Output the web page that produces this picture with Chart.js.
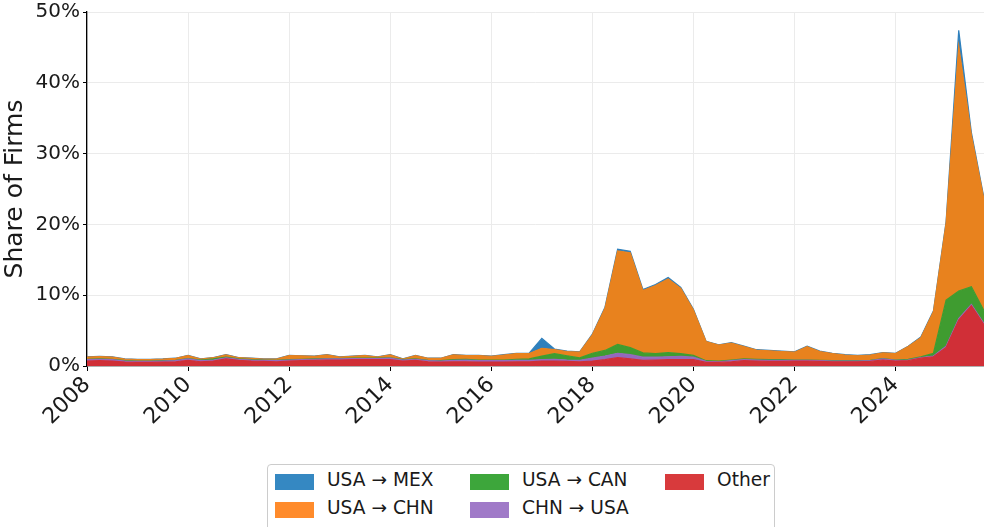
<!DOCTYPE html>
<html>
<head>
    <title>Share of Firms</title>
    <script src="https://cdn.jsdelivr.net/npm/chart.js@4.4.0/dist/chart.umd.min.js"></script>
    <style>
        body { margin: 0; background: white; font-family: "DejaVu Sans", sans-serif; }
        #wrap { position: relative; width: 984px; height: 527px; overflow: hidden; }
        #legend {
            position: absolute; left: 267px; top: 464px; width: 508px; height: 80px;
            border: 1px solid #cccccc; border-radius: 4px; background: white; box-sizing: border-box;
        }
        .item { position: absolute; font-size: 18.6px; color: #1a1a1a; white-space: nowrap; }
        .patch { position: absolute; width: 39px; height: 16px; }
    </style>
</head>
<body>
<div id="wrap">
    <canvas id="chart" width="984" height="527"></canvas>
    <div id="legend"></div>
</div>
<script>
    // quarterly, 2008 Q1 .. 2025 Q4, values in %
    const quarters = [];
    for (var i = 0; i < 72; i++) quarters.push(2008 + i / 4);

    const other = [0.7,0.75,0.7,0.55,0.5,0.5,0.55,0.6, 0.8,0.6,0.7,1.0,0.8,0.7,0.65,0.6,
        0.7,0.75,0.8,0.85,0.85,0.9,0.9,0.9, 0.9,0.7,0.8,0.6,0.55,0.6,0.6,0.55,
        0.55,0.55,0.6,0.6,0.7,0.7,0.65,0.6, 0.7,0.9,1.2,1.0,0.8,0.85,0.9,0.9,
        0.9,0.5,0.5,0.6,0.75,0.7,0.65,0.65, 0.7,0.7,0.65,0.6,0.6,0.6,0.65,0.85,
        0.7,0.75,1.1,1.3,2.6,6.5,8.5,5.8];
    const chnUsa = [0.2,0.2,0.2,0.15,0.15,0.15,0.15,0.15, 0.2,0.15,0.15,0.15,0.15,0.15,0.15,0.15,
        0.15,0.15,0.15,0.15,0.15,0.15,0.15,0.15, 0.2,0.15,0.15,0.15,0.15,0.2,0.25,0.2,
        0.2,0.2,0.2,0.2,0.2,0.25,0.2,0.2, 0.4,0.5,0.6,0.6,0.45,0.4,0.4,0.45,
        0.35,0.15,0.1,0.15,0.15,0.15,0.15,0.15, 0.1,0.1,0.1,0.1,0.1,0.1,0.1,0.15,
        0.1,0.1,0.1,0.1,0.2,0.2,0.2,0.2];
    const usaCan = [0.05,0.05,0.05,0.05,0.05,0.05,0.05,0.05, 0.05,0.1,0.15,0.1,0.05,0.05,0.05,0.05,
        0.05,0.05,0.05,0.05,0.05,0.05,0.05,0.05, 0.05,0.05,0.05,0.05,0.05,0.1,0.1,0.1,
        0.1,0.1,0.15,0.2,0.5,0.8,0.6,0.35, 0.7,0.8,1.25,1.0,0.6,0.5,0.6,0.4,
        0.25,0.1,0.1,0.1,0.1,0.1,0.1,0.1, 0.05,0.05,0.05,0.05,0.05,0.05,0.05,0.05,
        0.05,0.1,0.1,0.4,6.5,3.9,2.5,1.8];
    const usaChn = [0.32,0.32,0.32,0.22,0.22,0.22,0.22,0.27, 0.42,0.12,0.17,0.32,0.17,0.17,0.12,0.17,
        0.57,0.47,0.37,0.52,0.22,0.27,0.37,0.17, 0.42,0.07,0.47,0.27,0.32,0.67,0.52,0.62,
        0.5,0.7,0.8,0.75,1.1,0.55,0.6,0.8, 2.6,5.95,13.2,13.4,8.8,9.6,10.4,9.2,
        6.4,2.7,2.25,2.4,1.75,1.3,1.25,1.15, 1.1,1.9,1.25,1.0,0.8,0.7,0.75,0.8,
        0.9,1.8,2.7,5.9,10.9,34.6,21.4,15.7];
    const usaMex = [0.03,0.03,0.03,0.03,0.03,0.03,0.03,0.03, 0.03,0.03,0.03,0.03,0.03,0.03,0.03,0.03,
        0.03,0.03,0.03,0.03,0.03,0.03,0.03,0.03, 0.03,0.03,0.03,0.03,0.03,0.03,0.03,0.03,
        0.05,0.05,0.05,0.05,1.4,0.1,0.05,0.05, 0.1,0.15,0.25,0.2,0.15,0.15,0.2,0.15,
        0.1,0.05,0.05,0.05,0.05,0.05,0.05,0.05, 0.05,0.05,0.05,0.05,0.05,0.05,0.05,0.05,
        0.05,0.05,0.1,0.1,0.2,2.2,0.4,0.2];

    const yearTicks = [2008, 2010, 2012, 2014, 2016, 2018, 2020, 2022, 2024];
    const pctTicks = [0, 10, 20, 30, 40, 50];

    // bottom of the stack first
    const series = [
        {label: 'Other', data: other, color: '#d02f37', legend: '#d83a3c'},
        {label: 'CHN \u2192 USA', data: chnUsa, color: '#9469bd', legend: '#a07ac8'},
        {label: 'USA \u2192 CAN', data: usaCan, color: '#3f9c30', legend: '#3da63b'},
        {label: 'USA \u2192 CHN', data: usaChn, color: '#e8821e', legend: '#ff8b2b'},
        {label: 'USA \u2192 MEX', data: usaMex, color: '#2f80bd', legend: '#3588c2'}
    ];

    const datasets = series.map(function (s, k) {
        return {
            label: s.label,
            data: s.data.map(function (v, i) { return {x: quarters[i], y: v}; }),
            backgroundColor: s.color,
            borderColor: s.color,
            borderWidth: 1.2,
            pointRadius: 0,
            tension: 0,
            fill: k === 0 ? 'origin' : '-1'
        };
    });

    Chart.defaults.font.family = '"DejaVu Sans", sans-serif';
    Chart.defaults.color = '#1a1a1a';

    new Chart(document.getElementById('chart'), {
        type: 'line',
        data: {datasets: datasets},
        options: {
            responsive: false,
            animation: false,
            plugins: {legend: {display: false}, tooltip: {enabled: false}},
            layout: {padding: {top: 9, right: 0, left: 0, bottom: 0}},
            scales: {
                x: {
                    type: 'linear',
                    min: 2008,
                    max: 2025.75,
                    afterBuildTicks: function (s) { s.ticks = yearTicks.map(function (v) { return {value: v}; }); },
                    afterFit: function (s) { s.height = 161; },
                    grid: {color: '#ebebeb', lineWidth: 1, tickLength: 5, tickColor: '#000'},
                    border: {color: '#000', width: 1.3},
                    ticks: {
                        font: {size: 22},
                        minRotation: 45,
                        maxRotation: 45,
                        padding: 1,
                        callback: function (v) { return String(v); }
                    }
                },
                y: {
                    stacked: true,
                    min: 0,
                    max: 50,
                    afterBuildTicks: function (s) { s.ticks = pctTicks.map(function (v) { return {value: v}; }); },
                    afterFit: function (s) { s.width = 87; },
                    grid: {color: '#ebebeb', lineWidth: 1, tickLength: 4, tickColor: '#000'},
                    border: {color: '#000', width: 1.3},
                    ticks: {
                        font: {size: 20, lineHeight: 0.9},
                        padding: 3,
                        callback: function (v) { return v + '%'; }
                    },
                    title: {
                        display: true,
                        text: 'Share of Firms',
                        font: {size: 25},
                        padding: {top: 0, bottom: 0}
                    }
                }
            }
        }
    });

    // legend: matplotlib style, 3 columns filled column-first
    const legendOrder = [4, 3, 2, 1, 0];
    const legendBox = document.getElementById('legend');
    legendOrder.forEach(function (k, n) {
        var col = Math.floor(n / 2), row = n % 2;
        var s = series[k];
        var patch = document.createElement('div');
        patch.className = 'patch';
        patch.style.background = s.legend;
        patch.style.left = (7 + col * 195) + 'px';
        patch.style.top = (9 + row * 28) + 'px';
        legendBox.appendChild(patch);
        var txt = document.createElement('div');
        txt.className = 'item';
        txt.textContent = s.label;
        txt.style.left = (59 + col * 195) + 'px';
        txt.style.top = (4 + row * 28) + 'px';
        legendBox.appendChild(txt);
    });
</script>
</body>
</html>
